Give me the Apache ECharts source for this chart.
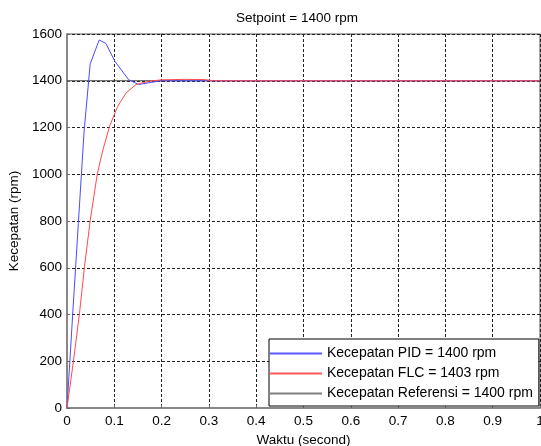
<!DOCTYPE html>
<html>
<head>
<meta charset="utf-8">
<script src="https://cdn.jsdelivr.net/npm/echarts@6/dist/echarts.min.js"></script>
<style>
  html, body { margin: 0; padding: 0; background: #fff; }
  #chart { width: 541px; height: 446px; }
</style>
</head>
<body>
<div id="chart"></div>
<script>
// Step response of motor speed: PID vs fuzzy logic controller, setpoint 1400 rpm
const xTicks = [0, 0.1, 0.2, 0.3, 0.4, 0.5, 0.6, 0.7, 0.8, 0.9, 1];
const yTicks = [0, 200, 400, 600, 800, 1000, 1200, 1400, 1600];

// time (s) and speed (rpm) samples
const pidTime  = [0, 0.012, 0.024, 0.036, 0.049, 0.068, 0.082, 0.101, 0.130, 0.151, 0.175, 0.200, 0.250, 1.0];
const pidSpeed = [0, 400, 790, 1180, 1472, 1574, 1560, 1484, 1405, 1384, 1392, 1400, 1400, 1400];

const flcTime  = [0, 0.0137, 0.0264, 0.037, 0.049, 0.064, 0.076, 0.090, 0.107, 0.125, 0.146, 0.174, 0.200, 0.250, 0.290, 0.310, 1.0];
const flcSpeed = [0, 202, 405, 605, 801, 1001, 1105, 1205, 1290, 1348, 1384, 1398, 1404, 1406, 1405, 1400, 1400];

const refTime  = [0, 1.0];
const refSpeed = [1400, 1400];

const seriesNames = [
  'Kecepatan PID = 1400 rpm',
  'Kecepatan FLC = 1403 rpm',
  'Kecepatan Referensi = 1400 rpm'
];
const seriesColors = ['#3030ff', '#ff3030', '#606060'];

const pair = (xs, ys) => xs.map((x, i) => [x, ys[i]]);
const nearest = (ticks, v) => ticks.reduce((a, b) => Math.abs(b - v) < Math.abs(a - v) ? b : a);

const font = 'Liberation Sans, Arial, sans-serif';
const chart = echarts.init(document.getElementById('chart'), null, { renderer: 'canvas' });

chart.setOption({
  animation: false,
  backgroundColor: '#ffffff',
  title: {
    text: 'Setpoint = 1400 rpm',
    left: 292,
    top: 6,
    textAlign: 'center',
    textStyle: { fontFamily: font, fontSize: 13.5, fontWeight: 'normal', color: '#000' }
  },
  grid: {
    left: 67, top: 34, right: 1, bottom: 38,
    outerBoundsMode: 'none',
    containLabel: false,
    show: true, borderColor: '#555', borderWidth: 1, backgroundColor: '#fff'
  },
  legend: {
    orient: 'vertical',
    left: 269, top: 339,
    padding: [7, 6, 5, 1],
    icon: 'rect',
    itemWidth: 52, itemHeight: 2, itemGap: 5,
    backgroundColor: '#fff',
    borderColor: '#000', borderWidth: 1, borderRadius: 0,
    itemStyle: { borderWidth: 0 },
    textStyle: { fontFamily: font, fontSize: 14, lineHeight: 15, color: '#000' },
    data: seriesNames.map((name, i) => ({
      name,
      itemStyle: { color: seriesColors[i], borderWidth: 0, opacity: 0.8 }
    }))
  },
  xAxis: {
    type: 'value',
    min: 0, max: 1, interval: 0.1,
    name: 'Waktu (second)',
    nameLocation: 'middle',
    nameGap: 23,
    nameTextStyle: { fontFamily: font, fontSize: 13.5, color: '#000' },
    axisLine: { show: true, lineStyle: { color: '#888', width: 2 } },
    axisTick: { show: true, inside: true, length: 3, lineStyle: { color: '#666' } },
    axisLabel: {
      margin: 6, fontFamily: font, fontSize: 13.5, color: '#000',
      formatter: v => String(nearest(xTicks, v))
    },
    splitLine: { show: true, lineStyle: { color: '#222', width: 1, type: [3, 2] } }
  },
  yAxis: {
    type: 'value',
    min: 0, max: 1600, interval: 200,
    name: 'Kecepatan (rpm)',
    nameLocation: 'middle',
    nameGap: 40,
    nameTextStyle: { fontFamily: font, fontSize: 13.5, color: '#000' },
    axisLine: { show: true, lineStyle: { color: '#888', width: 2 } },
    axisTick: { show: true, inside: true, length: 3, lineStyle: { color: '#666' } },
    axisLabel: {
      margin: 5, fontFamily: font, fontSize: 13.5, color: '#000',
      formatter: v => String(nearest(yTicks, v))
    },
    splitLine: { show: true, lineStyle: { color: '#222', width: 1, type: [3, 2] } }
  },
  series: [
    {
      name: seriesNames[2], type: 'line', symbol: 'none', z: 1,
      data: pair(refTime, refSpeed),
      lineStyle: { color: '#444', width: 1 }, itemStyle: { color: seriesColors[2] }
    },
    {
      name: seriesNames[0], type: 'line', symbol: 'none', z: 2,
      data: pair(pidTime, pidSpeed),
      lineStyle: { color: '#4a4aff', width: 1 }, itemStyle: { color: seriesColors[0] }
    },
    {
      name: seriesNames[1], type: 'line', symbol: 'none', z: 3,
      data: pair(flcTime, flcSpeed),
      lineStyle: { color: '#ff4a4a', width: 1 }, itemStyle: { color: seriesColors[1] }
    }
  ]
});
</script>
</body>
</html>
